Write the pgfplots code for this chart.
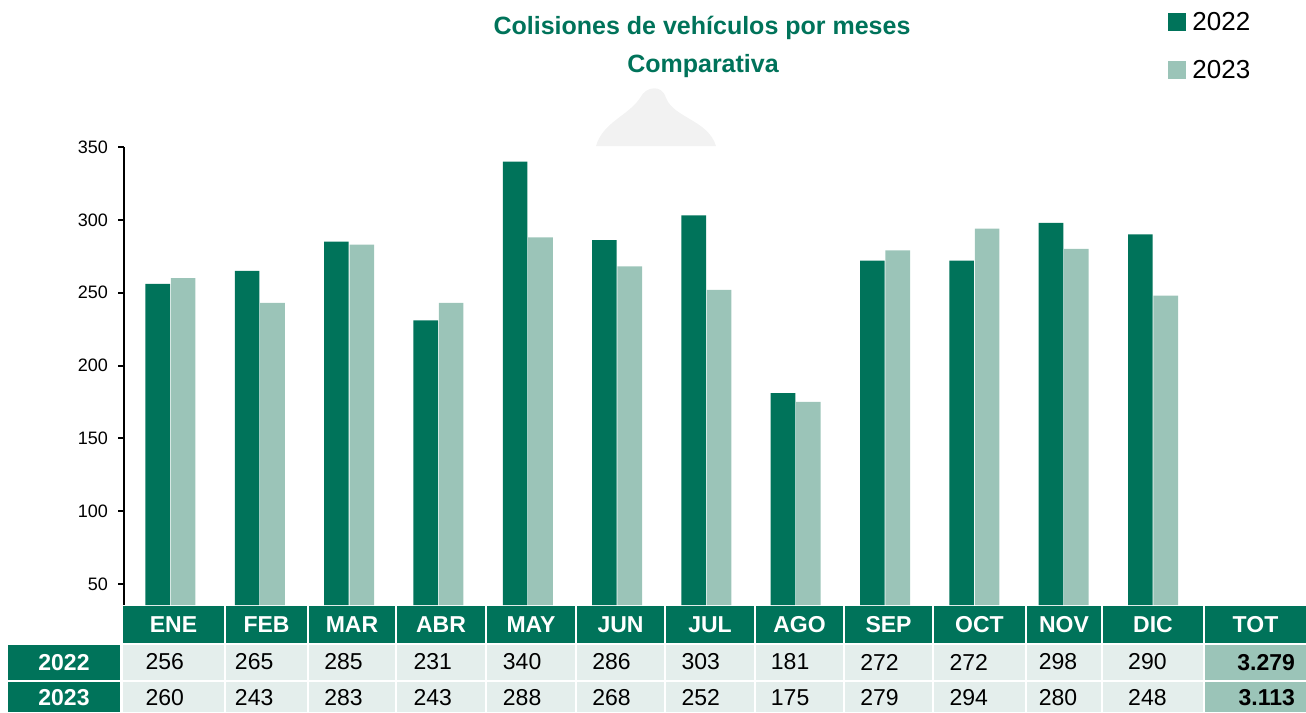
\documentclass[border=0pt]{standalone}
\usepackage{fontspec}
\setmainfont{Liberation Sans}
\usepackage{pgfplots}
\usepackage{pgfplotstable}
\pgfplotsset{compat=1.18}
\definecolor{dk}{HTML}{00735A}
\definecolor{lt}{HTML}{9BC4B8}
\definecolor{bg}{HTML}{E4EEEC}

% month index, 2022, 2023
\pgfplotstableread{
x a b
0 256 260
1 265 243
2 285 283
3 231 243
4 340 288
5 286 268
6 303 252
7 181 175
8 272 279
9 272 294
10 298 280
11 290 248
}\data

\begin{document}
\begin{tikzpicture}
\begin{scope}[x=0.5pt,y=-0.5pt]
\path[use as bounding box] (0,0) rectangle (1306,712);
% faint watermark
\fill[black!5] (596,146) .. controls (603,122) and (628,116) .. (640,98)
  .. controls (646,86) and (662,84) .. (666,98)
  .. controls (674,118) and (708,120) .. (716,146) -- cycle;
% title
\node[font=\bfseries\fontsize{12.5}{14}\selectfont, text=dk] at (702,28) {Colisiones de vehículos por meses};
\node[font=\bfseries\fontsize{12.5}{14}\selectfont, text=dk] at (703,66) {Comparativa};
% legend
\fill[dk] (1168,13) rectangle (1186,31);
\fill[lt] (1168,61) rectangle (1186,79);
\node[anchor=west, inner sep=0, font=\fontsize{13}{15}\selectfont] at (1192,22) {2022};
\node[anchor=west, inner sep=0, font=\fontsize{13}{15}\selectfont] at (1192,70) {2023};
% table cells
\foreach \l/\r/\t in {123/224/ENE, 226/307/FEB, 309/395/MAR, 397/485/ABR,
  487/575/MAY, 577/664/JUN, 666/754/JUL, 756/843/AGO, 845/932/SEP,
  934/1025/OCT, 1027/1101/NOV, 1103/1203/DIC} {
  \fill[dk] (\l,606) rectangle (\r,643);
  \node[text=white, font=\bfseries\fontsize{11.5}{13}\selectfont] at ({(\l+\r)/2},624.5) {\t};
  \fill[bg] (\l,645) rectangle (\r,680);
  \fill[bg] (\l,682) rectangle (\r,712);
}
\fill[dk] (1205,606) rectangle (1306,643);
\node[text=white, font=\bfseries\fontsize{11.5}{13}\selectfont] at (1255.5,624.5) {TOT};
\fill[lt] (1205,645) rectangle (1306,680);
\fill[lt] (1205,682) rectangle (1306,712);
\node[anchor=east, font=\bfseries\fontsize{11.5}{13}\selectfont] at (1302,662.5) {3.279};
\node[anchor=east, font=\bfseries\fontsize{11.5}{13}\selectfont] at (1302,698) {3.113};
\fill[dk] (8,645) rectangle (120,680);
\fill[dk] (8,682) rectangle (120,712);
\node[text=white, font=\bfseries\fontsize{11.5}{13}\selectfont] at (64,662.5) {2022};
\node[text=white, font=\bfseries\fontsize{11.5}{13}\selectfont] at (64,698) {2023};
\end{scope}

\begin{axis}[
    at={(62pt,-302.5pt)}, anchor=south west,
    scale only axis, width=581.5pt, height=229pt,
    xmin=-0.52, xmax=12.5, ymin=35.6, ymax=350,
    axis x line=none, axis y line*=left,
    ytick={50,100,...,350},
    tick align=outside, major tick length=3pt,
    y axis line style={line width=1pt, black},
    every tick/.style={black, line width=1pt},
    yticklabel style={font=\fontsize{9}{10}\selectfont, xshift=-1.5pt},
    /pgf/number format/assume math mode=true,
]
\addplot[ybar, bar width=12.3pt, bar shift=-6.35pt, fill=dk, draw=none] table[x=x, y=a] {\data};
\addplot[ybar, bar width=12.3pt, bar shift=6.35pt, fill=lt, draw=none] table[x=x, y=b] {\data};
\end{axis}

\begin{axis}[
    at={(62pt,-302.5pt)}, anchor=south west,
    scale only axis, width=581.5pt, height=229pt,
    xmin=-0.52, xmax=12.5, ymin=35.6, ymax=350,
    hide axis, clip=false,
]
\addplot[draw=none, mark=none, nodes near coords, point meta=explicit symbolic,
  every node near coord/.append style={anchor=west, inner sep=0pt, xshift=-12.6pt, yshift=-28.5pt,
    font=\fontsize{11.5}{13}\selectfont, text=black}]
  table[x=x, y expr=35.6, meta=a] {\data};
\addplot[draw=none, mark=none, nodes near coords, point meta=explicit symbolic,
  every node near coord/.append style={anchor=west, inner sep=0pt, xshift=-12.6pt, yshift=-46.5pt,
    font=\fontsize{11.5}{13}\selectfont, text=black}]
  table[x=x, y expr=35.6, meta=b] {\data};
\end{axis}
\end{tikzpicture}
\end{document}
